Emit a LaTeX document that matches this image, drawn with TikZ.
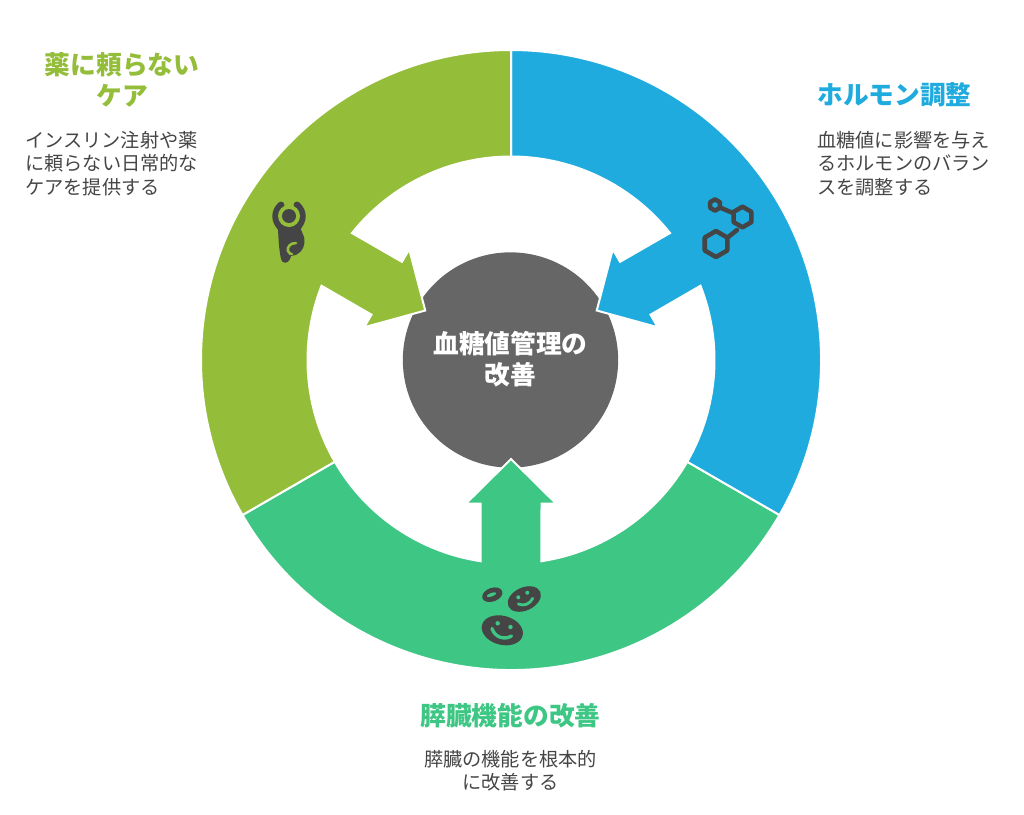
\documentclass[tikz,border=0pt]{standalone}
\usepackage{fontspec}
\setmainfont{Noto Sans CJK JP}
\definecolor{carecol}{HTML}{94BD3A}
\definecolor{hormcol}{HTML}{1FABDE}
\definecolor{pancol}{HTML}{3EC784}
\definecolor{corecol}{HTML}{666666}
\definecolor{iconcol}{HTML}{454545}
\tikzset{
  titletext/.style={inner sep=0pt,font=\fontsize{19.3}{23.3}\selectfont\bfseries},
  bodytext/.style={inner sep=0pt,text=iconcol,font=\fontsize{14.4}{17.6}\selectfont},
  iconline/.style={draw=iconcol,line width=3.4pt,line join=round,line cap=round}
}

\begin{document}
\begin{tikzpicture}[x=0.75pt,y=0.75pt]
  \useasboundingbox (0,-814) rectangle (1024,0);

  % Centre disc
  \node[circle,fill=corecol,inner sep=0pt,minimum size=161.5pt] (core) at (510.5,-360) {};

  % Ring segments with their arrows
  \foreach \ang/\col in {0/pancol,120/hormcol,240/carecol}{
    \filldraw[shift={(511,-360)},rotate=\ang,fill=\col,draw=white,line width=1.5pt,line join=miter]
      (210:310) arc[start angle=210,end angle=330,radius=310]
      -- (330:203.5) arc[start angle=330,end angle=278.6,radius=203.5]
      -- (30.5,-143.5) -- (45,-143.5) -- (0,-99) -- (-45,-143.5) -- (-30.5,-143.5)
      -- (261.4:203.5) arc[start angle=261.4,end angle=210,radius=203.5]
      -- cycle;
  }

  % Person icon
  \draw[iconcol,line width=5.2pt,line cap=round] (281,-205) .. controls (274,-212) and (274,-220) .. (281,-228);
  \draw[iconcol,line width=5.2pt,line cap=round] (297,-205) .. controls (304,-212) and (304,-220) .. (297,-228);
  \fill[iconcol] (278,-224) -- (300,-224) .. controls (300,-232) and (305,-234) .. (304.5,-242)
    .. controls (304,-250) and (298,-256) .. (291,-256) -- (290,-259) .. controls (288,-264) and (282,-264) .. (281,-259)
    .. controls (279,-250) and (278,-235) .. (278,-224) -- cycle;
  \fill[carecol] (289,-216) circle (11);
  \fill[iconcol] (289,-216) circle (7);
  \draw[carecol,line width=1.9pt,line cap=round] (296,-243) .. controls (290,-243) and (287,-247) .. (288,-251)
    .. controls (289,-254) and (291,-254) .. (292,-254);

  % Molecule icon
  \foreach \hx/\hy/\hr in {715/205/5.6,742.5/217/10.3,716/244/13}{
    \draw[iconline,shift={(\hx,-\hy)}] (90:\hr) -- (150:\hr) -- (210:\hr) -- (270:\hr) -- (330:\hr) -- (30:\hr) -- cycle;
  }
  \draw[iconline] (721,-208) -- (733,-213);
  \draw[iconline] (737,-230) -- (727,-238);

  % Cell icon
  \fill[iconcol,rotate around={-15:(502.3,-630.3)}] (502.3,-630.3) ellipse [x radius=21,y radius=14.5];
  \fill[iconcol,rotate around={25:(524.3,-599)}] (524.3,-599) ellipse [x radius=17.5,y radius=11.5];
  \fill[iconcol,rotate around={20:(492.3,-594.7)}] (492.3,-594.7) ellipse [x radius=10.5,y radius=6.8];
  \fill[pancol,rotate around={20:(491.5,-594.7)}] (491.5,-594.7) ellipse [x radius=5,y radius=1.8];
  \fill[pancol] (497.7,-623.3) circle (2.2) (510.5,-627) circle (2.2) (518.3,-597.3) circle (2) (527.3,-592.7) circle (2);
  \draw[pancol,line width=2.5pt,line cap=round] (492,-628.5) .. controls (495,-638) and (505,-640) .. (511.5,-636);
  \draw[pancol,line width=2.1pt,line cap=round] (518.3,-604) .. controls (524,-606.5) and (530,-604) .. (532.7,-598.3);

  % Labels
  \node[titletext,text=white,align=center] (coretext) at (510.5,-359) {血糖値管理の\\改善};
  \node[titletext,text=carecol,align=center] (caretitle) at (122,-79.5) {薬に頼らない\\ケア};
  \node[bodytext,align=left,anchor=west] (carebody) at (25,-163.5) {インスリン注射や薬\\に頼らない日常的な\\ケアを提供する};
  \node[titletext,text=hormcol,anchor=west] (hormtitle) at (817,-95) {ホルモン調整};
  \node[bodytext,align=left,anchor=west] (hormbody) at (817,-163.5) {血糖値に影響を与え\\るホルモンのバラン\\スを調整する};
  \node[titletext,text=pancol] (pantitle) at (510.5,-716) {膵臓機能の改善};
  \node[bodytext,align=center] (panbody) at (510.5,-770.5) {膵臓の機能を根本的\\に改善する};
\end{tikzpicture}
\end{document}
